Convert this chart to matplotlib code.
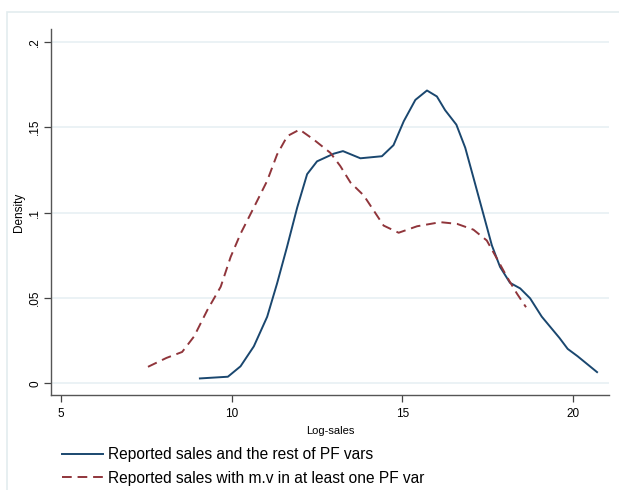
import numpy as np
import matplotlib
matplotlib.use('Agg')
import matplotlib.pyplot as plt
from matplotlib.patches import Rectangle

plt.rcParams['font.family'] = ['Liberation Sans', 'DejaVu Sans']

# density estimates
x_rest = [9.07, 9.89, 10.26, 10.65, 11.04, 11.33, 11.62, 11.92, 12.21, 12.50, 12.99,
          13.26, 13.77, 14.40, 14.74, 15.04, 15.38, 15.72, 16.01, 16.25, 16.58, 16.84,
          17.08, 17.37, 17.62, 17.86, 18.15, 18.45, 18.74, 19.08, 19.60, 19.84, 20.13, 20.70]
d_rest = [0.0029, 0.0039, 0.010, 0.0217, 0.039, 0.0585, 0.0798, 0.103, 0.1225, 0.130, 0.1345,
          0.136, 0.1318, 0.133, 0.1395, 0.1535, 0.166, 0.1715, 0.168, 0.160, 0.1515, 0.138,
          0.1205, 0.0992, 0.0808, 0.0682, 0.0589, 0.0556, 0.0498, 0.0391, 0.0266, 0.0202, 0.0159, 0.0066]

x_mv = [7.55, 8.09, 8.55, 8.90, 9.29, 9.68, 9.97, 10.26, 10.65, 11.04, 11.33, 11.63,
        11.99, 12.40, 12.89, 13.18, 13.48, 13.87, 14.16, 14.45, 14.89, 15.43, 16.11,
        16.60, 17.08, 17.47, 17.77, 18.06, 18.35, 18.62]
d_mv = [0.0097, 0.0149, 0.0184, 0.0275, 0.043, 0.0566, 0.074, 0.0876, 0.103, 0.1186, 0.134, 0.1448,
        0.1486, 0.1428, 0.135, 0.1273, 0.1176, 0.110, 0.1012, 0.0924, 0.0882, 0.092, 0.0944,
        0.0934, 0.090, 0.0837, 0.073, 0.0624, 0.0527, 0.0446]

xticks = [5, 10, 15, 20]
yticks = [0, 0.05, 0.1, 0.15, 0.2]
ytick_labels = ['0', '.05', '.1', '.15', '.2']

fig = plt.figure(figsize=(6.19, 4.9), dpi=100)
fig.patches.append(Rectangle((7 / 619, -0.1), 1.2, 1 - 12 / 490 + 0.1,
                             transform=fig.transFigure, fill=False,
                             edgecolor='#e3ecef', linewidth=1.2))

ax = fig.add_axes([51 / 619, 1 - 395 / 490, 558 / 619, 366 / 490])
ax.plot(x_rest, d_rest, color='#1a476f', linewidth=1.4,
        label='Reported sales and the rest of PF vars')
ax.plot(x_mv, d_mv, color='#90353b', linewidth=1.4, linestyle=(0, (5, 3)),
        label='Reported sales with m.v in at least one PF var')

ax.set_xlim(4.71, 21.05)
ax.set_ylim(-0.0068, 0.2075)
ax.set_xticks(xticks)
ax.set_yticks(yticks)
ax.set_yticklabels(ytick_labels, rotation=90, va='center')
ax.tick_params(axis='both', direction='out', length=5, width=0.9, color='#444444',
               labelsize=8.5)
ax.tick_params(axis='x', pad=4)
ax.tick_params(axis='y', pad=2)
ax.grid(True, axis='y', color='#e6eff2', linewidth=1.1)
ax.set_axisbelow(True)
for s in ['top', 'right']:
    ax.spines[s].set_visible(False)
for s in ['left', 'bottom']:
    ax.spines[s].set_color('#555555')
    ax.spines[s].set_linewidth(1.0)

ax.set_xlabel('Log-sales', fontsize=8, labelpad=5)
ax.set_ylabel('Density', fontsize=8.5, labelpad=3)

ax.legend(loc='upper left', bbox_to_anchor=(0.008, -0.125), frameon=False,
          fontsize=11.2, handlelength=2.63, handletextpad=0.32, labelspacing=0.55,
          borderaxespad=0)

fig.savefig('out.png', dpi=100)
